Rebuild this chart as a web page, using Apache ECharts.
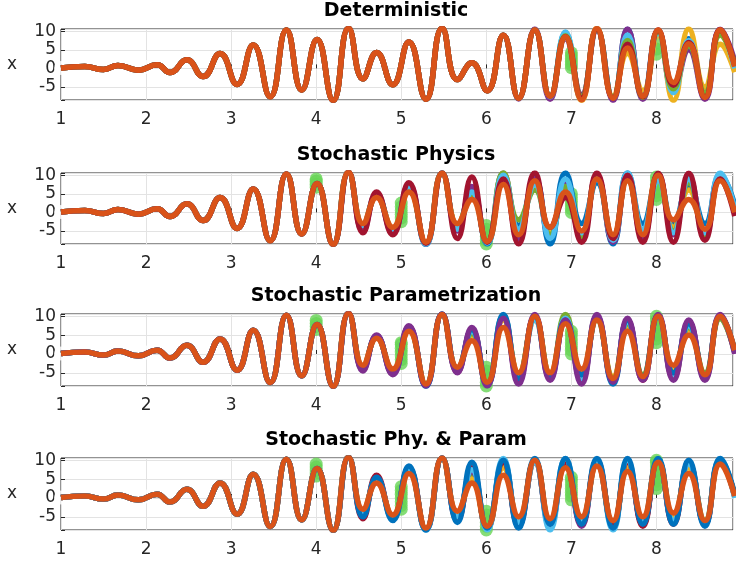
<!DOCTYPE html>
<html>
<head>
<meta charset="utf-8">
<script src="https://cdn.jsdelivr.net/npm/echarts@6/dist/echarts.min.js"></script>
<style>
  html, body { margin: 0; padding: 0; background: #ffffff; }
  #chart { width: 736px; height: 562px; }
</style>
</head>
<body>
<div id="chart"></div>
<script>
// Sample times: the turning points of the oscillation
const T = [1.00,1.28,1.50,1.67,1.91,2.13,2.28,2.48,2.67,2.87,3.07,3.26,3.46,3.65,3.83,4.01,4.20,
           4.38,4.55,4.71,4.90,5.09,5.29,5.48,5.66,5.83,6.01,6.20,6.38,6.57,6.75,6.93,7.12,7.30,
           7.49,7.66,7.84,8.02,8.20,8.38,8.57,8.75,8.92];

// Trajectory shared by every run up to t = 4.2
const sharedStart = [0.1,0.5,-0.3,0.8,-0.5,1.0,-1.1,2.3,-2.2,4.0,-4.3,6.3,-7.6,10.3,-5.8,7.8,-8.6];

// Observation times
const obsTimes = [1,2,3,4,5,6,7,8];

// ---- Deterministic ----
const detOrange = [10.8,-2.8,4.3,-4.4,7.1,-8.3,10.8,-3.0,1.5,-6.0,8.9,-8.0,10.3,-7.5,8.5,-8.5,10.8,-8.0,5.5,-7.5,10.3,-3.8,6.6,-7.8,10.4,0.5];
const detFrom = 28;
const detBlue      = [-8.0,10.3,-7.6,9.5,-7.8,10.5,-8.2,10.5,-7.8,10.2,-5.0,8.0,-7.0,10.2,1.0];
const detPurple    = [-8.2,10.6,-8.3,8.0,-7.0,10.2,-8.6,10.6,-8.3,10.0,-6.0,5.0,-8.3,10.5,2.0];
const detYellow    = [-8.0,10.3,-7.5,8.3,-8.6,10.8,-7.5,4.0,-6.0,9.0,-8.6,10.6,-5.0,6.5,-1.0];
const detLightBlue = [-8.0,10.3,-7.6,9.8,-8.2,10.5,-8.0,9.0,-7.5,9.5,-6.5,7.5,-7.5,10.0,0.0];
const detGreen     = [-8.0,10.3,-7.5,8.8,-7.5,10.5,-7.8,7.5,-7.8,10.0,-5.5,6.0,-6.5,9.0,1.5];
const detDarkRed   = [-8.0,10.3,-7.5,8.5,-8.0,10.6,-8.0,6.5,-7.6,10.3,-4.5,7.0,-7.8,10.4,0.8];
const detObs = [[0.1],[0.4],[-2.0],[7.6],[0.8],[-6.3],[0.2,1.0,1.8,2.6,3.4,4.2],[3.8,5.2,6.8]];

// ---- Stochastic Physics ----
const physOrange = [10.8,-3.0,4.0,-4.0,5.5,-8.0,10.5,-3.0,3.5,-7.8,7.5,-6.0,8.5,-4.0,5.5,-5.0,9.0,-6.0,8.5,-6.0,10.0,-2.0,3.5,-4.5,8.5,0.0];
const physFrom = 17;
const physDarkRed   = [10.8,-5.5,5.5,-6.0,8.0,-8.3,10.6,-7.0,9.5,-8.0,9.0,-8.5,10.6,-4.0,4.0,-8.0,10.6,-7.0,10.0,-8.0,10.5,-8.0,10.5,-7.5,9.0,-1.0];
const physBlue      = [10.8,-4.0,4.5,-5.0,7.0,-8.7,10.6,-4.0,6.0,-8.5,10.6,-3.5,9.0,-8.5,10.6,-3.0,8.0,-8.5,10.6,-3.0,9.0,-3.0,7.0,-3.0,10.0,2.0];
const physGreen     = [10.8,-3.5,4.5,-4.5,6.5,-8.3,10.5,-3.5,5.0,-8.0,10.5,-2.0,6.0,-6.0,7.0,-6.5,9.5,-7.0,9.0,-5.0,9.5,-5.0,8.0,-6.0,9.0,0.5];
const physYellow    = [10.8,-3.2,4.2,-4.2,6.0,-8.2,10.6,-3.2,4.0,-8.0,10.6,-5.0,8.0,-5.0,6.5,-6.0,9.5,-6.5,9.5,-6.5,10.0,-4.0,6.0,-5.0,9.5,0.0];
const physLightBlue = [10.8,-3.5,4.8,-4.8,7.0,-8.5,10.6,-4.5,5.5,-8.2,10.0,-4.5,7.5,-7.0,9.0,-5.5,9.0,-7.5,10.6,-4.5,8.5,-5.5,9.0,-5.5,10.6,1.0];
const physPurple    = [10.8,-5.0,5.0,-5.5,7.5,-8.4,10.6,-5.0,7.0,-8.0,9.5,-7.0,9.5,-6.5,8.0,-7.0,10.0,-8.0,9.5,-7.0,10.3,-6.0,9.5,-6.5,10.0,0.5];
const physObs = [[0.1],[0.4],[-2.0],[6.8,7.6,8.4,9.0],[-2.5,-1.5,-0.5,0.5,1.5,2.5],[-8.5,-7.5,-6.5,-5.5,-4.5,-3.5],[0,1,2,3,4,5],[3.5,4.5,5.5,6.5,7.5,8.5,9.5]];

// ---- Stochastic Parametrization ----
const paramOrange = [10.8,-3.0,4.2,-4.0,6.0,-8.0,10.5,-3.5,3.5,-7.5,7.0,-5.0,10.0,-5.0,8.0,-4.0,9.0,-6.5,6.0,-6.0,10.0,-3.0,5.0,-5.5,10.0,1.0];
const paramFrom = 17;
const paramPurple    = [10.8,-4.5,5.0,-5.5,7.5,-8.5,10.6,-5.0,7.0,-8.5,9.5,-8.0,10.5,-7.0,9.0,-8.0,10.5,-7.5,9.5,-7.0,10.5,-7.0,9.0,-7.0,10.5,0.0];
const paramBlue      = [10.8,-4.0,4.8,-5.0,7.0,-8.6,10.6,-4.5,6.5,-8.2,10.5,-6.5,10.0,-6.0,9.0,-5.5,9.5,-8.0,9.0,-6.0,10.0,-5.0,8.0,-6.0,10.0,1.0];
const paramGreen     = [10.8,-3.5,4.5,-4.5,6.5,-8.0,10.5,-4.0,5.5,-8.0,10.0,-5.5,9.5,-5.5,10.5,-6.0,9.0,-6.5,8.0,-5.5,9.5,-5.5,7.0,-5.0,9.5,0.5];
const paramLightBlue = [10.8,-3.8,4.6,-4.8,6.8,-8.3,10.6,-4.2,6.0,-8.4,10.2,-6.0,9.0,-6.5,9.5,-7.0,10.0,-7.0,8.5,-6.5,9.8,-6.0,7.5,-6.5,10.2,0.5];
const paramYellow    = [10.8,-3.2,4.3,-4.3,6.2,-8.1,10.5,-3.8,5.0,-7.8,9.0,-5.0,9.0,-5.0,8.5,-5.0,9.5,-6.0,7.0,-6.0,9.5,-4.5,6.5,-5.5,9.5,1.0];
const paramDarkRed   = [10.8,-4.2,4.8,-5.2,7.2,-8.4,10.6,-4.8,6.5,-8.2,9.8,-7.0,10.0,-6.5,9.0,-7.0,10.0,-7.5,9.0,-7.0,10.2,-6.5,8.5,-6.5,10.0,0.5];
const paramObs = [[0.1],[0.4],[-2.0],[6.5,7.3,8.1,8.9],[-2.5,-1.5,-0.5,0.5,1.5,2.5,3.0],[-8.5,-7.5,-6.5,-5.5,-4.5,-3.5],[0,1,2,3,4,5,6],[3,4,5,6,7,8,9,10]];

// ---- Stochastic Phy. & Param ----
const bothOrange = [10.8,-3.0,4.0,-4.5,6.5,-8.0,10.6,-3.5,4.0,-7.5,6.0,-5.0,10.0,-5.5,8.0,-5.0,8.5,-6.0,7.0,-5.0,9.5,-4.0,6.5,-6.0,9.0,0.5];
const bothFrom = 17;
const bothBlue      = [10.8,-5.0,5.5,-6.0,8.5,-8.5,10.6,-6.5,9.5,-8.0,10.0,-8.0,10.5,-7.0,10.5,-7.0,10.5,-8.0,10.5,-7.0,10.5,-7.0,10.0,-7.5,10.5,1.0];
const bothLightBlue = [10.8,-4.0,5.0,-5.5,7.5,-8.6,10.6,-5.0,7.5,-8.5,10.5,-6.5,9.5,-8.5,10.5,-6.5,9.5,-8.5,10.0,-6.0,10.0,-6.0,9.0,-6.5,10.5,0.0];
const bothDarkRed   = [10.8,-5.5,6.0,-5.5,8.0,-8.4,10.6,-6.0,8.0,-8.2,9.5,-7.5,10.0,-7.5,9.5,-7.0,10.0,-7.5,9.5,-7.5,10.0,-7.0,9.5,-7.0,10.0,0.5];
const bothYellow    = [10.8,-3.5,4.5,-4.8,7.0,-8.2,10.5,-4.0,5.0,-7.8,8.0,-6.0,10.0,-6.0,9.0,-6.0,9.0,-7.0,8.5,-6.0,10.0,-5.0,8.0,-6.5,9.5,1.0];
const bothPurple    = [10.8,-4.5,5.2,-5.2,7.8,-8.4,10.6,-5.5,7.0,-8.0,9.5,-7.0,9.5,-7.0,9.0,-7.5,9.5,-7.0,9.0,-7.0,10.0,-6.5,9.0,-7.0,10.0,0.5];
const bothGreen     = [10.8,-3.8,4.8,-5.0,7.2,-8.3,10.6,-4.5,6.0,-8.0,9.0,-6.5,9.5,-6.5,9.5,-6.0,9.0,-7.0,9.0,-6.5,9.5,-5.5,8.5,-6.0,10.0,0.5];
const bothObs = [[0.1],[0.4],[-2.0],[5.8,6.6,7.4,8.2,9.0],[-3.0,-2.0,-1.0,0,1.0,2.0,3.0],[-8.5,-7.5,-6.5,-5.5,-4.5,-3.5],[-0.5,0.5,1.5,2.5,3.5,4.5,5.5],[2.5,3.5,4.5,5.5,6.5,7.5,8.5,9.5,10.0]];

// MATLAB-style line colours
const C = {
  blue: '#0072BD', orange: '#D95319', yellow: '#EDB120', purple: '#7E2F8E',
  green: '#77AC30', lightBlue: '#4DBEEE', darkRed: '#A2142F'
};
const OBS_GREEN = '#66D455';

const panels = [
  { title: 'Deterministic', top: 29, height: 71, orange: detOrange, from: detFrom, obs: detObs,
    members: [['blue', detBlue], ['purple', detPurple], ['yellow', detYellow], ['lightBlue', detLightBlue], ['green', detGreen], ['darkRed', detDarkRed]] },
  { title: 'Stochastic Physics', top: 173, height: 71, orange: physOrange, from: physFrom, obs: physObs,
    members: [['blue', physBlue], ['yellow', physYellow], ['purple', physPurple], ['green', physGreen], ['lightBlue', physLightBlue], ['darkRed', physDarkRed]] },
  { title: 'Stochastic Parametrization', top: 314, height: 72, orange: paramOrange, from: paramFrom, obs: paramObs,
    members: [['darkRed', paramDarkRed], ['yellow', paramYellow], ['green', paramGreen], ['lightBlue', paramLightBlue], ['blue', paramBlue], ['purple', paramPurple]] },
  { title: 'Stochastic Phy. & Param', top: 458, height: 72, orange: bothOrange, from: bothFrom, obs: bothObs,
    members: [['green', bothGreen], ['purple', bothPurple], ['yellow', bothYellow], ['darkRed', bothDarkRed], ['lightBlue', bothLightBlue], ['blue', bothBlue]] }
];

// Full path of a run: shared start, the panel's reference continuation, then the run's own values
function runPath(panel, tail, from) {
  const vals = sharedStart.concat(panel.orange);
  if (tail) tail.forEach((v, i) => { vals[from + i] = v; });
  return T.map((t, i) => [t, vals[i]]);
}

const FONT = 'DejaVu Sans';
const INK = '#262626';
const LINE_W = 5.5;
const SMOOTH = 0.5;
const grids = [], xAxes = [], yAxes = [], series = [], graphics = [];

panels.forEach((p, k) => {
  grids.push({ left: 61, right: 3, top: p.top, height: p.height, show: true,
               borderColor: INK, borderWidth: 1, backgroundColor: 'transparent' });
  xAxes.push({
    type: 'value', gridIndex: k, min: 1, max: 8.9, interval: 1,
    axisLine: { show: false }, axisTick: { inside: true, length: 4, lineStyle: { color: INK } },
    axisLabel: { color: INK, fontFamily: FONT, fontSize: 17, margin: 11,
                 formatter: v => (Number.isInteger(v) ? String(v) : '') },
    splitLine: { show: true, lineStyle: { color: '#e3e3e3', width: 1 } }
  });
  yAxes.push({
    type: 'value', gridIndex: k, min: -8.5, max: 10.6, splitNumber: 4,
    name: 'x', nameLocation: 'middle', nameGap: 44, nameRotate: 0,
    nameTextStyle: { color: INK, fontFamily: FONT, fontSize: 17 },
    axisLine: { show: false }, axisTick: { inside: true, length: 4, lineStyle: { color: INK } },
    axisLabel: { color: INK, fontFamily: FONT, fontSize: 17, margin: 5, lineHeight: 15,
                 formatter: v => (v % 5 === 0 ? String(v) : '') },
    splitLine: { show: true, lineStyle: { color: '#e3e3e3', width: 1 } }
  });
  graphics.push({
    type: 'text', x: 396, y: p.top - 18,
    style: { text: p.title, font: 'bold 19px ' + FONT, fill: '#000',
             textAlign: 'center', textVerticalAlign: 'middle', align: 'center', verticalAlign: 'middle' }
  });

  p.members.forEach(([col, tail]) => {
    series.push({
      type: 'line', xAxisIndex: k, yAxisIndex: k, data: runPath(p, tail, p.from),
      smooth: SMOOTH, showSymbol: false, silent: true,
      lineStyle: { color: C[col], width: LINE_W }
    });
  });
  series.push({
    type: 'line', xAxisIndex: k, yAxisIndex: k, data: runPath(p, null, 0),
    smooth: SMOOTH, showSymbol: false, silent: true,
    lineStyle: { color: C.orange, width: LINE_W }
  });

  const singles = [], clusters = [];
  obsTimes.forEach((t, i) => {
    const vs = p.obs[i];
    vs.forEach(v => (vs.length > 1 ? clusters : singles).push([t, v]));
  });
  series.push({
    type: 'scatter', xAxisIndex: k, yAxisIndex: k, data: clusters, silent: true,
    symbol: 'circle', symbolSize: 13, itemStyle: { color: OBS_GREEN }
  });
  series.push({
    type: 'scatter', xAxisIndex: k, yAxisIndex: k, data: singles, silent: true,
    symbol: 'emptyCircle', symbolSize: 14,
    itemStyle: { color: 'rgba(0,0,0,0)', borderColor: OBS_GREEN, borderWidth: 1.5 }
  });
});

const chart = echarts.init(document.getElementById('chart'), null, { renderer: 'canvas' });
chart.setOption({
  animation: false,
  backgroundColor: '#ffffff',
  grid: grids, xAxis: xAxes, yAxis: yAxes, series: series, graphic: graphics
});
</script>
</body>
</html>
